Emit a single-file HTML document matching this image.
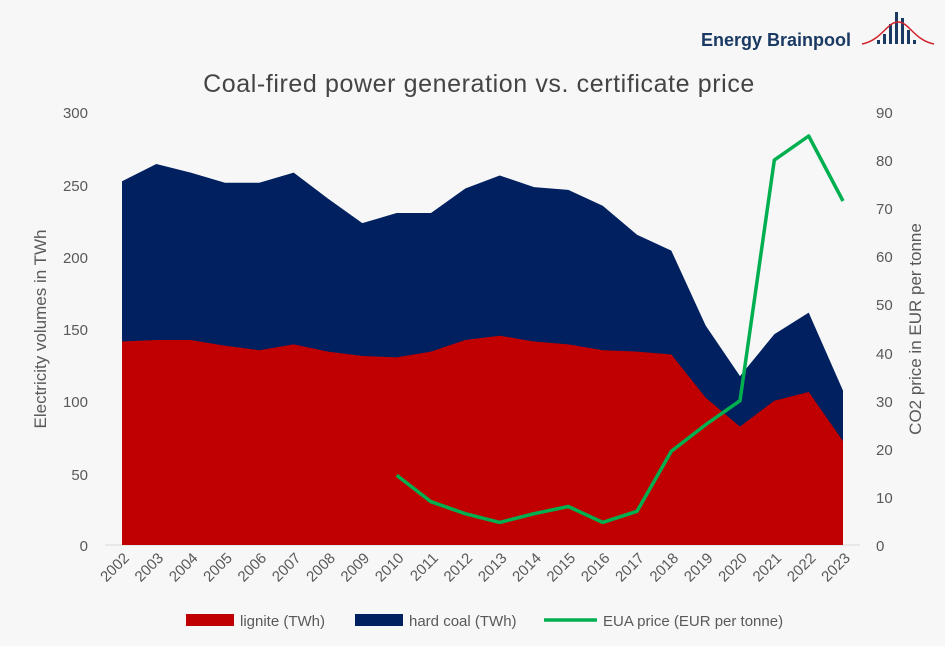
<!DOCTYPE html>
<html><head><meta charset="utf-8"><style>
html,body{margin:0;padding:0;background:#f7f7f7;}
svg{display:block;font-family:"Liberation Sans","DejaVu Sans",sans-serif;}
</style></head><body>
<svg width="945" height="646" viewBox="0 0 945 646" xmlns="http://www.w3.org/2000/svg">
<rect width="945" height="646" fill="#f7f7f7"/>
<text x="776" y="46" font-size="18" font-weight="bold" fill="#1a3a63" text-anchor="middle">Energy Brainpool</text>
<g fill="#1a3a63">
<rect x="877" y="40" width="3" height="4"/><rect x="883" y="34" width="3" height="10"/><rect x="889" y="24" width="3" height="20"/><rect x="895" y="12" width="3" height="32"/><rect x="901" y="18" width="3" height="26"/><rect x="907" y="30" width="3" height="14"/><rect x="913" y="40" width="3" height="4"/>
</g>
<path d="M862 44 C882 40,887 22,898 22 C909 22,914 40,934 44" fill="none" stroke="#d0222a" stroke-width="1.5"/>
<text x="479" y="92" font-size="25" fill="#444" text-anchor="middle" letter-spacing="0.6">Coal-fired power generation vs. certificate price</text>
<line x1="105" x2="860" y1="545" y2="545" stroke="#d9d9d9"/>
<polygon fill="#002060" points="122,181.3 156.3,164 190.7,172.6 225,182.7 259.3,182.7 293.7,172.6 328,198.6 362.3,223.1 396.7,213 431,213 465.3,188.5 499.7,175.5 534,187.1 568.3,189.9 602.7,205.8 637,234.7 671.3,250.6 705.7,325.6 740,376.1 774.3,334.3 808.7,312.6 843,390.6 843,545 122,545"/>
<polygon fill="#c00000" points="122,341.5 156.3,340 190.7,340 225,345.8 259.3,350.2 293.7,344.4 328,351.6 362.3,356 396.7,357.4 431,351.6 465.3,340 499.7,335.7 534,341.5 568.3,344.4 602.7,350.2 637,351.6 671.3,354.5 705.7,397.8 740,426.6 774.3,400.7 808.7,392 843,441.1 843,545 122,545"/>
<polyline fill="none" stroke="#00b050" stroke-width="3.5" stroke-linejoin="round" points="396.7,475.2 431,501.7 465.3,513.7 499.7,522.4 534,513.7 568.3,506.5 602.7,522.4 637,511.3 671.3,451.2 705.7,424.7 740,400.7 774.3,160.1 808.7,136 843,201"/>
<g font-size="15" fill="#595959" text-anchor="end">
<text x="88" y="551">0</text><text x="88" y="480">50</text><text x="88" y="407">100</text><text x="88" y="335">150</text><text x="88" y="263">200</text><text x="88" y="191">250</text><text x="88" y="118">300</text>
</g>
<g font-size="15" fill="#595959" text-anchor="start">
<text x="876" y="551">0</text><text x="876" y="503">10</text><text x="876" y="455">20</text><text x="876" y="407">30</text><text x="876" y="359">40</text><text x="876" y="310">50</text><text x="876" y="262">60</text><text x="876" y="214">70</text><text x="876" y="166">80</text><text x="876" y="118">90</text>
</g>
<text transform="translate(46,329) rotate(-90)" font-size="17" fill="#595959" text-anchor="middle">Electricity volumes in TWh</text>
<text transform="translate(921,329) rotate(-90)" font-size="17" fill="#595959" text-anchor="middle">CO2 price in EUR per tonne</text>
<g font-size="15" fill="#595959" text-anchor="end">
<text transform="translate(130,559) rotate(-45)">2002</text>
<text transform="translate(164.3,559) rotate(-45)">2003</text>
<text transform="translate(198.7,559) rotate(-45)">2004</text>
<text transform="translate(233,559) rotate(-45)">2005</text>
<text transform="translate(267.3,559) rotate(-45)">2006</text>
<text transform="translate(301.7,559) rotate(-45)">2007</text>
<text transform="translate(336,559) rotate(-45)">2008</text>
<text transform="translate(370.3,559) rotate(-45)">2009</text>
<text transform="translate(404.7,559) rotate(-45)">2010</text>
<text transform="translate(439,559) rotate(-45)">2011</text>
<text transform="translate(473.3,559) rotate(-45)">2012</text>
<text transform="translate(507.7,559) rotate(-45)">2013</text>
<text transform="translate(542,559) rotate(-45)">2014</text>
<text transform="translate(576.3,559) rotate(-45)">2015</text>
<text transform="translate(610.7,559) rotate(-45)">2016</text>
<text transform="translate(645,559) rotate(-45)">2017</text>
<text transform="translate(679.3,559) rotate(-45)">2018</text>
<text transform="translate(713.7,559) rotate(-45)">2019</text>
<text transform="translate(748,559) rotate(-45)">2020</text>
<text transform="translate(782.3,559) rotate(-45)">2021</text>
<text transform="translate(816.7,559) rotate(-45)">2022</text>
<text transform="translate(851,559) rotate(-45)">2023</text>
</g>
<rect x="186" y="614" width="48" height="12" fill="#c00000"/>
<text x="240" y="626" font-size="15" fill="#595959">lignite (TWh)</text>
<rect x="355" y="614" width="48" height="12" fill="#002060"/>
<text x="409" y="626" font-size="15" fill="#595959">hard coal (TWh)</text>
<line x1="544" x2="597" y1="620" y2="620" stroke="#00b050" stroke-width="3.5"/>
<text x="603" y="626" font-size="15" fill="#595959">EUA price (EUR per tonne)</text>
</svg>
</body></html>
